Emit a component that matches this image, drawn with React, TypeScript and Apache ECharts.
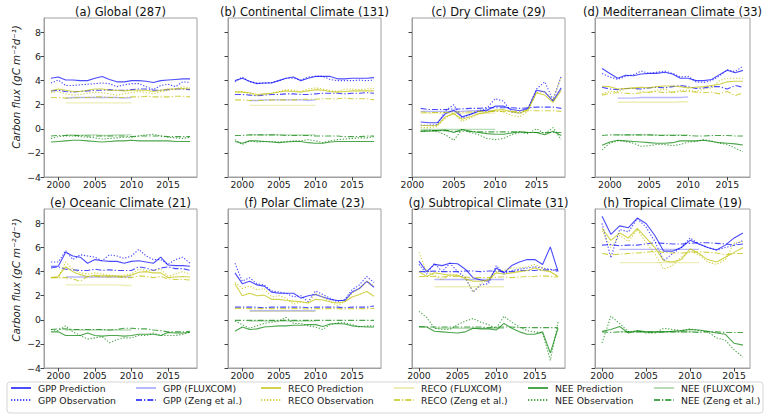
import React, { useEffect, useRef } from "react";
import * as echarts from "echarts";

// ---------- years ----------
const YEARS_99_18 = [1999, 2000, 2001, 2002, 2003, 2004, 2005, 2006, 2007, 2008, 2009, 2010, 2011, 2012, 2013, 2014, 2015, 2016, 2017, 2018];
const YEARS_99_17 = [1999, 2000, 2001, 2002, 2003, 2004, 2005, 2006, 2007, 2008, 2009, 2010, 2011, 2012, 2013, 2014, 2015, 2016, 2017];
const YEARS_01_18 = [2001, 2002, 2003, 2004, 2005, 2006, 2007, 2008, 2009, 2010, 2011, 2012, 2013, 2014, 2015, 2016, 2017, 2018];
const YEARS_00_18 = [2000, 2001, 2002, 2003, 2004, 2005, 2006, 2007, 2008, 2009, 2010, 2011, 2012, 2013, 2014, 2015, 2016, 2017, 2018];
const YEARS_00_16 = [2000, 2001, 2002, 2003, 2004, 2005, 2006, 2007, 2008, 2009, 2010, 2011, 2012, 2013, 2014, 2015, 2016];
const FLUX_01_10 = [2001, 2002, 2003, 2004, 2005, 2006, 2007, 2008, 2009, 2010];
const FLUX_02_11 = [2002, 2003, 2004, 2005, 2006, 2007, 2008, 2009, 2010, 2011];

const X_TICKS = [2000, 2005, 2010, 2015];
const Y_TICKS = [-4, -2, 0, 2, 4, 6, 8];

const TITLES = [
  "(a) Global (287)", "(b) Continental Climate (131)", "(c) Dry Climate (29)", "(d) Mediterranean Climate (33)",
  "(e) Oceanic Climate (21)", "(f) Polar Climate (23)", "(g) Subtropical Climate (31)", "(h) Tropical Climate (19)",
];

// ---------- (a) Global ----------
const A_gppPred = [4.2, 4.3, 4.05, 4.05, 4.0, 4.0, 4.2, 4.35, 4.1, 3.9, 3.9, 4.0, 4.0, 3.95, 3.85, 4.0, 4.05, 4.1, 4.15, 4.15];
const A_gppObs = [3.8, 4.05, 3.6, 3.6, 3.65, 3.7, 3.75, 3.8, 3.75, 3.5, 3.65, 3.75, 3.75, 3.5, 3.25, 3.6, 3.7, 3.5, 3.9, 3.85];
const A_gppFlux = [2.55, 2.6, 2.6, 2.6, 2.6, 2.6, 2.6, 2.6, 2.55, 2.6];
const A_gppZeng = [3.15, 3.2, 3.1, 3.05, 3.1, 3.15, 3.2, 3.2, 3.25, 3.2, 3.2, 3.25, 3.3, 3.3, 3.2, 3.2, 3.25, 3.3, 3.3, 3.25];
const A_recoPred = [3.15, 3.3, 3.2, 3.1, 3.1, 3.2, 3.3, 3.3, 3.2, 3.2, 3.15, 3.2, 3.2, 3.2, 3.1, 3.2, 3.3, 3.3, 3.35, 3.3];
const A_recoObs = [3.0, 3.1, 2.9, 2.8, 2.85, 2.95, 3.05, 3.0, 2.9, 2.8, 2.9, 3.0, 3.1, 3.0, 2.9, 3.1, 3.2, 3.3, 3.5, 3.4];
const A_recoFlux = [2.15, 2.15, 2.15, 2.15, 2.15, 2.15, 2.15, 2.15, 2.15, 2.15];
const A_recoZeng = [2.6, 2.6, 2.55, 2.55, 2.6, 2.6, 2.65, 2.65, 2.6, 2.6, 2.6, 2.65, 2.65, 2.7, 2.65, 2.65, 2.65, 2.7, 2.7, 2.65];
const A_neePred = [-1.1, -1.05, -1.0, -0.95, -0.95, -1.0, -1.05, -1.1, -1.05, -1.0, -1.0, -0.95, -1.0, -1.0, -1.0, -1.0, -1.0, -1.05, -1.05, -1.05];
const A_neeObs = [-0.8, -0.65, -0.6, -0.6, -0.65, -0.7, -0.75, -0.85, -0.8, -0.75, -0.7, -0.7, -0.6, -0.5, -0.45, -0.6, -0.7, -0.75, -0.8, -0.7];
const A_neeFlux = [-0.5, -0.5, -0.55, -0.5, -0.5, -0.55, -0.55, -0.5, -0.5, -0.5];
const A_neeZeng = [-0.6, -0.55, -0.55, -0.55, -0.55, -0.6, -0.6, -0.6, -0.6, -0.6, -0.6, -0.65, -0.6, -0.6, -0.6, -0.6, -0.65, -0.65, -0.65, -0.65];

// ---------- (b) Continental ----------
const B_gppPred = [4.0, 4.2, 3.95, 3.75, 3.8, 3.8, 4.0, 4.2, 4.3, 4.0, 4.2, 4.35, 4.35, 4.35, 4.15, 4.15, 4.2, 4.2, 4.2, 4.25];
const B_gppObs = [3.9, 4.3, 3.9, 3.8, 3.8, 3.85, 4.0, 4.2, 4.2, 4.05, 4.3, 4.35, 4.35, 4.1, 4.0, 4.0, 4.0, 4.05, 4.0, 4.05];
const B_gppFlux = [2.35, 2.35, 2.4, 2.4, 2.4, 2.4, 2.4, 2.4, 2.35, 2.4];
const B_gppZeng = [2.85, 2.85, 2.8, 2.75, 2.8, 2.85, 2.85, 2.9, 2.9, 2.85, 2.85, 2.9, 2.95, 2.95, 2.95, 2.9, 2.95, 2.95, 3.0, 2.95];
const B_recoPred = [3.05, 3.05, 3.0, 2.85, 2.9, 2.95, 3.05, 3.15, 3.1, 3.05, 3.15, 3.25, 3.2, 3.1, 3.05, 3.1, 3.15, 3.15, 3.15, 3.15];
const B_recoObs = [3.1, 3.1, 2.9, 2.75, 2.85, 2.95, 3.1, 3.25, 3.2, 3.1, 3.3, 3.4, 3.3, 3.15, 3.1, 3.3, 3.3, 3.25, 3.3, 3.35];
const B_recoFlux = [1.95, 1.95, 1.95, 1.95, 1.95, 1.95, 1.95, 1.95, 1.95, 1.95];
const B_recoZeng = [2.4, 2.4, 2.35, 2.35, 2.35, 2.4, 2.4, 2.4, 2.4, 2.45, 2.45, 2.45, 2.5, 2.5, 2.5, 2.55, 2.5, 2.5, 2.5, 2.4];
const B_neePred = [-1.05, -1.2, -1.0, -1.0, -1.05, -1.1, -1.15, -1.1, -1.05, -1.05, -1.15, -1.2, -1.2, -1.1, -1.05, -1.05, -1.05, -1.05, -1.05, -1.05];
const B_neeObs = [-0.9, -1.3, -1.0, -1.1, -1.05, -1.05, -1.1, -1.05, -1.0, -1.0, -0.9, -1.0, -1.15, -1.0, -0.9, -0.85, -0.8, -0.75, -0.75, -0.65];
const B_neeFlux = [-0.5, -0.5, -0.5, -0.5, -0.5, -0.5, -0.5, -0.5, -0.5, -0.5];
const B_neeZeng = [-0.55, -0.55, -0.5, -0.5, -0.5, -0.5, -0.5, -0.55, -0.55, -0.55, -0.55, -0.6, -0.6, -0.6, -0.6, -0.65, -0.65, -0.65, -0.6, -0.6];

// ---------- (c) Dry ----------
const C_gppPred = [0.57, 0.5, 0.5, 1.27, 1.55, 1.0, 1.2, 1.45, 1.55, 1.88, 1.9, 1.6, 1.5, 1.7, 3.2, 3.07, 2.3, 3.4];
const C_gppObs = [0.3, 0.3, 0.35, 1.5, 2.0, 0.9, 1.2, 1.5, 1.7, 2.5, 2.3, 1.4, 1.3, 1.7, 3.3, 3.9, 2.4, 4.4];
const C_gppFlux = [1.45, 1.45, 1.45, 1.45, 1.45, 1.45, 1.5, 1.5, 1.5, 1.45];
const C_gppZeng = [1.7, 1.6, 1.6, 1.6, 1.65, 1.65, 1.7, 1.7, 1.75, 1.75, 1.75, 1.75, 1.7, 1.75, 1.8, 1.8, 1.8, 1.7];
const C_recoPred = [0.3, 0.25, 0.3, 1.0, 1.25, 0.8, 1.0, 1.25, 1.35, 1.55, 1.6, 1.4, 1.3, 1.6, 3.0, 2.8, 2.2, 3.2];
const C_recoObs = [0.1, 0.1, 0.2, 0.9, 1.3, 0.6, 0.9, 1.2, 1.4, 1.5, 1.4, 1.1, 1.0, 1.5, 3.0, 3.1, 2.4, 4.3];
const C_recoFlux = [1.3, 1.3, 1.3, 1.3, 1.3, 1.3, 1.3, 1.3, 1.3, 1.3];
const C_recoZeng = [1.4, 1.35, 1.35, 1.35, 1.4, 1.4, 1.4, 1.45, 1.45, 1.45, 1.45, 1.45, 1.45, 1.5, 1.5, 1.5, 1.5, 1.45];
const C_neePred = [-0.2, -0.2, -0.15, -0.1, -0.3, -0.05, -0.2, -0.3, -0.4, -0.45, -0.45, -0.35, -0.25, -0.3, -0.3, -0.5, -0.2, -0.55];
const C_neeObs = [-0.2, -0.1, -0.2, -0.5, -0.95, -0.05, -0.3, -0.5, -0.8, -0.9, -0.8, -0.5, -0.3, -0.4, 0.0, -0.4, 0.1, -0.9];
const C_neeFlux = [-0.05, -0.05, -0.05, -0.05, -0.05, -0.05, -0.05, -0.05, -0.05, -0.05];
const C_neeZeng = [-0.2, -0.15, -0.15, -0.15, -0.2, -0.2, -0.2, -0.25, -0.25, -0.25, -0.25, -0.25, -0.25, -0.3, -0.3, -0.3, -0.3, -0.3];

// ---------- (d) Mediterranean ----------
const D_gppPred = [5.0, 4.6, 4.2, 4.45, 4.4, 4.55, 4.6, 4.6, 4.7, 4.55, 4.2, 4.2, 4.0, 4.0, 4.1, 4.5, 4.87, 4.65, 4.85];
const D_gppObs = [4.6, 4.3, 4.1, 4.35, 4.5, 4.8, 4.6, 4.7, 4.8, 4.6, 4.3, 4.35, 3.9, 3.85, 4.0, 4.4, 4.9, 4.75, 5.2];
const D_gppFlux = [2.55, 2.55, 2.55, 2.6, 2.6, 2.6, 2.6, 2.6, 2.6, 2.65];
const D_gppZeng = [3.45, 3.3, 3.25, 3.35, 3.35, 3.3, 3.4, 3.45, 3.4, 3.5, 3.6, 3.5, 3.35, 3.4, 3.5, 3.5, 3.3, 3.6, 3.45];
const D_recoPred = [3.54, 3.5, 3.3, 3.35, 3.4, 3.45, 3.4, 3.5, 3.55, 3.55, 3.5, 3.4, 3.45, 3.5, 3.6, 3.7, 3.9, 3.95, 3.95];
const D_recoObs = [2.9, 3.1, 3.1, 3.3, 3.4, 3.1, 3.0, 3.2, 3.3, 3.0, 3.2, 3.2, 3.1, 3.3, 3.4, 4.0, 4.2, 4.2, 4.2];
const D_recoFlux = [2.2, 2.2, 2.2, 2.2, 2.2, 2.2, 2.2, 2.2, 2.25, 2.25];
const D_recoZeng = [2.8, 2.95, 3.0, 2.95, 2.9, 3.0, 3.05, 3.1, 3.0, 3.05, 3.1, 3.1, 3.05, 3.0, 3.05, 2.9, 3.1, 2.75, 3.0];
const D_neePred = [-1.37, -1.1, -0.95, -1.0, -1.05, -1.1, -1.15, -1.2, -1.2, -1.15, -1.0, -1.0, -1.0, -0.95, -1.05, -1.15, -1.2, -1.25, -1.35];
const D_neeObs = [-1.75, -1.2, -1.0, -1.05, -1.2, -1.45, -1.4, -1.3, -1.3, -1.4, -1.3, -1.1, -1.05, -0.9, -1.0, -1.2, -1.3, -1.6, -1.9];
const D_neeFlux = [-0.5, -0.5, -0.5, -0.5, -0.5, -0.5, -0.5, -0.5, -0.5, -0.5];
const D_neeZeng = [-0.55, -0.5, -0.5, -0.5, -0.5, -0.5, -0.5, -0.55, -0.55, -0.55, -0.55, -0.55, -0.6, -0.6, -0.55, -0.55, -0.55, -0.6, -0.6];

// ---------- (e) Oceanic ----------
const E_gppPred = [4.45, 4.45, 5.6, 5.3, 5.2, 4.7, 5.0, 4.9, 4.85, 4.85, 4.7, 4.85, 4.9, 4.8, 4.7, 5.2, 4.55, 4.5, 4.5, 4.45];
const E_gppObs = [4.8, 4.8, 5.75, 5.0, 5.4, 5.3, 5.2, 4.9, 5.4, 5.3, 5.1, 5.3, 5.85, 5.3, 5.0, 5.0, 4.6, 5.0, 5.2, 4.7];
const E_gppFlux = [3.55, 3.55, 3.55, 3.55, 3.55, 3.55, 3.55, 3.55, 3.55, 3.55];
const E_gppZeng = [4.3, 4.4, 4.2, 4.15, 4.1, 4.1, 4.2, 4.1, 4.15, 4.1, 4.1, 4.1, 4.4, 4.3, 4.1, 4.3, 4.4, 4.25, 4.25, 4.1];
const E_recoPred = [3.5, 3.6, 4.4, 4.0, 3.75, 3.6, 3.7, 3.65, 3.65, 3.65, 3.6, 3.7, 3.95, 4.0, 3.9, 3.9, 3.5, 3.55, 3.6, 3.55];
const E_recoObs = [3.5, 3.5, 4.8, 4.2, 3.9, 3.8, 3.9, 3.8, 3.7, 3.6, 3.7, 3.8, 4.2, 4.1, 4.1, 4.2, 3.6, 3.8, 4.0, 3.8];
const E_recoFlux = [2.9, 2.9, 2.9, 2.9, 2.9, 2.9, 2.9, 2.9, 2.85, 2.85];
const E_recoZeng = [3.5, 3.5, 3.5, 3.4, 3.2, 3.6, 3.6, 3.55, 3.55, 3.55, 3.5, 3.5, 3.65, 3.6, 3.5, 3.6, 3.4, 3.35, 3.35, 3.3];
const E_neePred = [-1.0, -1.0, -1.3, -1.3, -1.3, -1.1, -1.3, -1.35, -1.3, -1.3, -1.35, -1.3, -1.2, -1.2, -1.2, -1.3, -1.05, -1.1, -1.1, -1.05];
const E_neeObs = [-0.8, -0.9, -0.5, -1.0, -1.3, -1.6, -1.5, -1.4, -1.9, -1.65, -1.5, -1.5, -1.3, -1.3, -1.1, -1.3, -1.3, -1.3, -1.2, -1.0];
const E_neeFlux = [-0.85, -0.85, -0.85, -0.85, -0.85, -0.85, -0.85, -0.85, -0.85, -0.85];
const E_neeZeng = [-0.8, -0.75, -0.75, -0.8, -0.8, -0.8, -0.8, -0.8, -0.85, -0.8, -0.7, -0.7, -0.75, -0.75, -0.85, -0.9, -1.0, -1.0, -1.0, -0.95];

// ---------- (f) Polar ----------
const F_gppPred = [3.9, 3.0, 3.2, 2.9, 2.8, 2.3, 2.2, 2.2, 2.2, 1.8, 2.0, 2.1, 1.9, 1.7, 1.6, 1.6, 2.3, 2.6, 3.2, 2.7];
const F_gppObs = [4.7, 3.2, 3.5, 3.0, 2.9, 2.4, 2.3, 2.2, 1.9, 2.0, 1.5, 2.4, 2.1, 1.8, 1.5, 1.7, 2.5, 2.9, 3.6, 3.1];
const F_gppFlux = [0.75, 0.75, 0.75, 0.75, 0.75, 0.75, 0.75, 0.75, 0.75, 0.75];
const F_gppZeng = [1.05, 1.05, 1.05, 1.05, 1.0, 1.05, 1.05, 1.05, 1.05, 1.05, 1.0, 1.05, 1.05, 1.05, 1.05, 1.0, 1.05, 1.05, 1.05, 1.15];
const F_recoPred = [2.98, 2.0, 2.2, 2.0, 2.05, 1.7, 1.7, 1.6, 1.55, 1.5, 1.4, 1.7, 1.65, 1.5, 1.4, 1.5, 1.9, 2.1, 2.35, 1.95];
const F_recoObs = [3.1, 2.6, 2.8, 2.5, 2.6, 1.9, 2.0, 1.8, 1.3, 1.5, 1.4, 2.2, 1.9, 1.5, 1.2, 1.5, 2.2, 2.6, 3.2, 2.8];
const F_recoFlux = [0.7, 0.7, 0.7, 0.7, 0.7, 0.7, 0.7, 0.7, 0.7, 0.7];
const F_recoZeng = [0.95, 0.95, 0.93, 0.93, 0.93, 0.93, 0.93, 0.93, 0.93, 0.93, 0.9, 0.93, 0.93, 0.93, 0.93, 0.9, 0.93, 0.93, 0.93, 0.95];
const F_neePred = [-0.95, -0.6, -0.8, -0.75, -0.6, -0.55, -0.5, -0.5, -0.45, -0.45, -0.4, -0.4, -0.55, -0.35, -0.3, -0.35, -0.5, -0.55, -0.6, -0.6];
const F_neeObs = [-0.1, -0.4, -0.7, -0.5, -0.3, -0.2, -0.1, 0.2, -0.3, -0.3, -0.5, -0.6, -0.8, -0.4, -0.25, -0.25, -0.4, -0.6, -0.5, -0.5];
const F_neeFlux = [-0.1, -0.1, -0.1, -0.1, -0.1, -0.1, -0.1, -0.1, -0.1, -0.1];
const F_neeZeng = [-0.05, -0.05, -0.05, -0.05, -0.05, -0.05, -0.05, -0.05, -0.05, -0.05, -0.05, -0.05, -0.05, -0.05, -0.05, -0.05, -0.05, -0.05, -0.05, -0.05];

// ---------- (g) Subtropical ----------
const G_gppPred = [4.87, 4.0, 4.6, 4.5, 4.7, 4.65, 4.2, 3.5, 3.3, 3.2, 4.3, 3.9, 4.5, 4.8, 5.0, 5.0, 4.6, 6.05, 4.0];
const G_gppObs = [4.6, 3.8, 4.7, 4.0, 4.7, 4.0, 3.5, 2.3, 2.9, 3.0, 4.5, 3.8, 4.1, 4.2, 4.3, 4.4, 4.3, 4.2, 4.0];
const G_gppFlux = [3.35, 3.35, 3.35, 3.35, 3.35, 3.35, 3.35, 3.35, 3.35, 3.35];
const G_gppZeng = [4.0, 4.0, 4.05, 4.0, 4.0, 4.0, 4.05, 4.05, 4.0, 4.05, 4.05, 4.0, 4.0, 4.1, 4.1, 4.1, 4.15, 4.15, 4.15];
const G_recoPred = [4.0, 3.6, 3.9, 3.8, 3.7, 3.7, 3.4, 3.2, 3.2, 3.3, 3.9, 3.8, 3.9, 4.0, 4.1, 4.3, 4.1, 4.0, 3.6];
const G_recoObs = [5.6, 4.0, 3.7, 3.3, 3.8, 3.7, 3.5, 2.3, 3.0, 3.4, 4.0, 4.1, 4.3, 4.3, 4.4, 4.6, 4.3, 4.0, 3.6];
const G_recoFlux = [2.75, 2.75, 2.75, 2.75, 2.75, 2.75, 2.75, 2.75, 2.75, 2.75];
const G_recoZeng = [3.6, 3.6, 3.6, 3.55, 3.6, 3.6, 3.55, 3.5, 3.5, 3.5, 3.55, 3.55, 3.5, 3.55, 3.6, 3.6, 3.65, 3.6, 3.55];
const G_neePred = [-0.55, -0.6, -0.95, -1.0, -1.05, -1.1, -1.0, -0.7, -0.75, -0.75, -0.85, -0.3, -0.7, -1.0, -1.2, -1.2, -1.0, -2.75, -0.7];
const G_neeObs = [0.7, 0.2, -0.7, -0.8, -0.8, -0.4, -0.1, 0.1, -0.2, -0.4, -0.7, 0.3, -0.2, -0.6, -0.9, -1.0, -1.1, -3.36, -0.2];
const G_neeFlux = [-0.7, -0.7, -0.7, -0.7, -0.7, -0.7, -0.7, -0.7, -0.7, -0.7];
const G_neeZeng = [-0.6, -0.6, -0.6, -0.6, -0.6, -0.6, -0.6, -0.6, -0.6, -0.65, -0.6, -0.6, -0.6, -0.65, -0.65, -0.65, -0.65, -0.65, -0.65];

// ---------- (h) Tropical ----------
const H_gppPred = [8.6, 7.1, 7.8, 7.65, 8.45, 8.0, 7.0, 5.7, 5.7, 6.0, 6.6, 6.3, 6.0, 5.8, 6.2, 6.8, 7.2];
const H_gppObs = [8.0, 5.15, 7.5, 7.3, 8.4, 7.7, 6.5, 4.9, 5.5, 6.0, 6.8, 6.3, 6.0, 5.8, 6.0, 6.2, 6.6];
const H_gppFlux = [5.85, 5.85, 5.85, 5.85, 5.85, 5.85, 5.85, 5.85, 5.85, 5.85];
const H_gppZeng = [6.2, 6.25, 6.15, 6.2, 6.2, 6.3, 6.4, 6.35, 6.3, 6.3, 6.35, 6.4, 6.4, 6.35, 6.3, 6.2, 6.3];
const H_recoPred = [7.6, 6.6, 7.2, 6.8, 7.6, 6.8, 6.0, 4.9, 4.8, 5.0, 5.9, 5.5, 5.0, 4.8, 5.2, 5.6, 6.0];
const H_recoObs = [7.4, 6.0, 7.0, 6.5, 7.5, 6.4, 5.5, 4.2, 4.5, 5.2, 5.7, 5.4, 4.8, 4.6, 5.0, 6.4, 6.5];
const H_recoFlux = [4.75, 4.75, 4.75, 4.75, 4.75, 4.75, 4.75, 4.75, 4.75, 4.75];
const H_recoZeng = [5.5, 5.4, 5.45, 5.5, 5.55, 5.6, 5.7, 5.6, 5.55, 5.55, 5.6, 5.65, 5.6, 5.55, 5.4, 5.5, 5.5];
const H_neePred = [-0.95, -0.8, -0.55, -1.1, -0.9, -1.0, -1.0, -1.0, -0.95, -0.9, -0.8, -0.85, -0.95, -1.1, -1.2, -1.95, -2.1];
const H_neeObs = [-1.92, 0.3, -0.3, -1.0, -0.9, -1.1, -1.1, -0.7, -0.8, -0.9, -0.75, -0.9, -1.0, -1.5, -1.7, -2.5, -3.1];
const H_neeFlux = [-1.0, -1.0, -1.0, -1.0, -1.0, -1.0, -1.0, -1.0, -1.0, -1.0];
const H_neeZeng = [-1.0, -1.05, -1.0, -1.0, -1.0, -1.0, -1.05, -1.0, -1.0, -1.0, -1.0, -1.05, -1.0, -1.0, -1.05, -1.05, -1.05];

// ---------- panel assembly ----------
const PANELS = [
  { years: YEARS_99_18, flux: FLUX_01_10, xMin: 1998.05, xMax: 2018.95, d: [A_gppPred, A_gppObs, A_gppFlux, A_gppZeng, A_recoPred, A_recoObs, A_recoFlux, A_recoZeng, A_neePred, A_neeObs, A_neeFlux, A_neeZeng] },
  { years: YEARS_99_18, flux: FLUX_01_10, xMin: 1998.05, xMax: 2018.95, d: [B_gppPred, B_gppObs, B_gppFlux, B_gppZeng, B_recoPred, B_recoObs, B_recoFlux, B_recoZeng, B_neePred, B_neeObs, B_neeFlux, B_neeZeng] },
  { years: YEARS_01_18, flux: FLUX_01_10, xMin: 1999.95, xMax: 2018.45, d: [C_gppPred, C_gppObs, C_gppFlux, C_gppZeng, C_recoPred, C_recoObs, C_recoFlux, C_recoZeng, C_neePred, C_neeObs, C_neeFlux, C_neeZeng] },
  { years: YEARS_99_17, flux: FLUX_01_10, xMin: 1998.1, xMax: 2017.9, d: [D_gppPred, D_gppObs, D_gppFlux, D_gppZeng, D_recoPred, D_recoObs, D_recoFlux, D_recoZeng, D_neePred, D_neeObs, D_neeFlux, D_neeZeng] },
  { years: YEARS_99_18, flux: FLUX_01_10, xMin: 1998.05, xMax: 2018.95, d: [E_gppPred, E_gppObs, E_gppFlux, E_gppZeng, E_recoPred, E_recoObs, E_recoFlux, E_recoZeng, E_neePred, E_neeObs, E_neeFlux, E_neeZeng] },
  { years: YEARS_99_18, flux: FLUX_01_10, xMin: 1998.05, xMax: 2018.95, d: [F_gppPred, F_gppObs, F_gppFlux, F_gppZeng, F_recoPred, F_recoObs, F_recoFlux, F_recoZeng, F_neePred, F_neeObs, F_neeFlux, F_neeZeng] },
  { years: YEARS_00_18, flux: FLUX_02_11, xMin: 1999.1, xMax: 2018.9, d: [G_gppPred, G_gppObs, G_gppFlux, G_gppZeng, G_recoPred, G_recoObs, G_recoFlux, G_recoZeng, G_neePred, G_neeObs, G_neeFlux, G_neeZeng] },
  { years: YEARS_00_16, flux: FLUX_02_11, xMin: 1999.2, xMax: 2016.8, d: [H_gppPred, H_gppObs, H_gppFlux, H_gppZeng, H_recoPred, H_recoObs, H_recoFlux, H_recoZeng, H_neePred, H_neeObs, H_neeFlux, H_neeZeng] },
];

const SERIES_NAMES = [
  "GPP Prediction", "GPP Observation", "GPP (FLUXCOM)", "GPP (Zeng et al.)",
  "RECO Prediction", "RECO Observation", "RECO (FLUXCOM)", "RECO (Zeng et al.)",
  "NEE Prediction", "NEE Observation", "NEE (FLUXCOM)", "NEE (Zeng et al.)",
];

const BASE_RGB = ["0,0,255", "191,191,0", "0,128,0"];
const DOTTED = [1.3, 1.7];
const DASHDOT = [6, 2, 1.3, 2];

function styleFor(k: number) {
  const rgb = BASE_RGB[Math.floor(k / 4)];
  const kind = k % 4;
  if (kind === 0) return { color: `rgba(${rgb},0.7)`, type: "solid" as any, width: 1.1 };
  if (kind === 1) return { color: `rgba(${rgb},0.7)`, type: DOTTED as any, width: 1.1 };
  if (kind === 2) return { color: `rgba(${rgb},0.28)`, type: "solid" as any, width: 1.4 };
  return { color: `rgba(${rgb},0.7)`, type: DASHDOT as any, width: 1.1 };
}

const COL_LEFT = [44, 228, 412, 595];
const COL_W = [153, 153, 153, 155];
const ROW_TOP = [18, 209];
const PLOT_H = 159;
const TITLE_Y = [12, 203];
const LEGEND_X = [10, 135, 260, 393, 527, 653];
const FONT = "DejaVu Sans";

export default function App() {
  const ref = useRef<HTMLDivElement>(null);
  useEffect(() => {
    if (!ref.current) return;
    const chart = echarts.init(ref.current, undefined, { renderer: "svg" });
    const grids: any[] = [];
    const xAxes: any[] = [];
    const yAxes: any[] = [];
    const series: any[] = [];
    const graphics: any[] = [];

    PANELS.forEach((p, i) => {
      const row = Math.floor(i / 4);
      const col = i % 4;
      grids.push({
        left: COL_LEFT[col], top: ROW_TOP[row], width: COL_W[col], height: PLOT_H,
        show: true, borderColor: "#a0a0a0", borderWidth: 1, backgroundColor: "transparent",
      });
      xAxes.push({
        type: "value", gridIndex: i, min: p.xMin, max: p.xMax,
        axisLine: { show: true, onZero: false, lineStyle: { color: "#a0a0a0" } },
        axisTick: { show: true, customValues: X_TICKS, length: 3.5, lineStyle: { color: "#444" } },
        axisLabel: {
          customValues: X_TICKS, fontSize: 9.3, color: "#222", margin: 3, fontFamily: FONT,
          formatter: (v: number) => String(Math.round(v)),
        },
        splitLine: { show: false },
      });
      yAxes.push({
        type: "value", gridIndex: i, min: -4, max: 9.2,
        axisLine: { show: true, onZero: false, lineStyle: { color: "#a0a0a0" } },
        axisTick: { show: true, customValues: Y_TICKS, length: 3.5, lineStyle: { color: "#444" } },
        axisLabel: {
          show: col === 0, customValues: Y_TICKS, fontSize: 9.3, color: "#222", margin: 3, fontFamily: FONT,
          formatter: (v: number) => String(v).replace("-", "\u2212"),
        },
        splitLine: { show: false },
      });
      p.d.forEach((vals, k) => {
        const xs = k % 4 === 2 ? p.flux : p.years;
        const st = styleFor(k);
        series.push({
          type: "line", name: SERIES_NAMES[k], xAxisIndex: i, yAxisIndex: i,
          data: xs.map((y, j) => [y, vals[j]]),
          symbol: "none", showSymbol: false, silent: true,
          lineStyle: st, itemStyle: { color: st.color },
          z: 2 + (k % 4 === 2 ? 0 : 1),
        });
      });
      graphics.push({
        type: "text",
        x: COL_LEFT[col] + COL_W[col] / 2, y: TITLE_Y[row],
        style: { text: TITLES[i], fontSize: 11.5, fill: "#111", fontFamily: FONT, textAlign: "center", textVerticalAlign: "middle" },
      });
    });

    [87, 280].forEach((cy) => {
      graphics.push({
        type: "text", x: 16, y: cy, rotation: Math.PI / 2,
        style: {
          text: "Carbon flux (gC m\u207B\u00B2d\u207B\u00B9)", fontSize: 10.3, fontStyle: "italic",
          fill: "#222", fontFamily: FONT, textAlign: "center", textVerticalAlign: "middle",
        },
      });
    });

    graphics.push({
      type: "rect", z: -10,
      shape: { x: 7, y: 382, width: 756, height: 31, r: 3 },
      style: { fill: "#fff", stroke: "#d6d6d6", lineWidth: 1 },
    });

    const legends = LEGEND_X.map((lx, c) => ({
      orient: "vertical", left: lx, top: 383.5, padding: 0, itemGap: 3,
      itemWidth: 20, itemHeight: 10, selectedMode: false,
      itemStyle: { opacity: 0, borderWidth: 0 },
      data: [SERIES_NAMES[c * 2], SERIES_NAMES[c * 2 + 1]],
      textStyle: { fontSize: 9.3, color: "#222", fontFamily: FONT, padding: [0, 0, 0, 2] },
    }));

    chart.setOption({
      animation: false,
      backgroundColor: "#fff",
      textStyle: { fontFamily: FONT },
      grid: grids, xAxis: xAxes, yAxis: yAxes, series,
      legend: legends,
      graphic: { elements: graphics },
    });
    return () => chart.dispose();
  }, []);
  return <div ref={ref} style={{ position: "absolute", left: 0, top: 0, width: 768, height: 418 }} />;
}
